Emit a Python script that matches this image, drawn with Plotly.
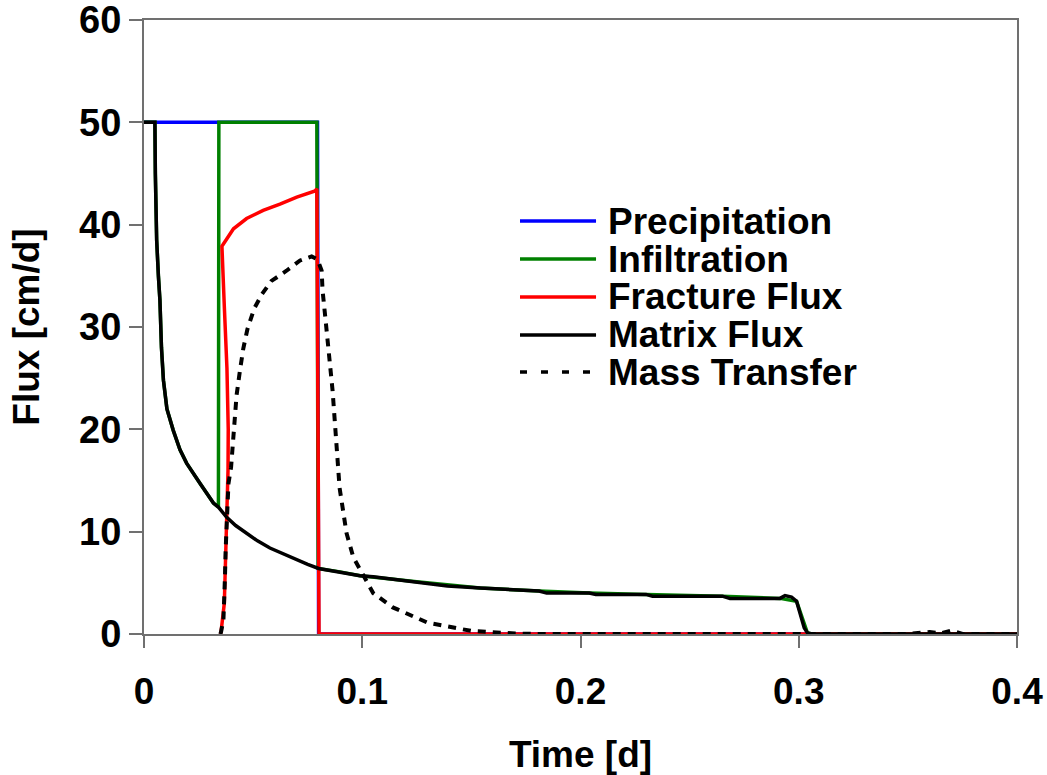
import plotly.graph_objects as go

# ---------------- data ----------------
series_names = ["Precipitation", "Infiltration", "Fracture Flux", "Matrix Flux", "Mass Transfer"]
series_colors = ["#0000FF", "#008000", "#FF0000", "#000000", "#000000"]

precip_t = [0.0, 0.0795, 0.0800, 0.4]
precip_v = [50, 50, 0, 0]

matrix_t = [0.0, 0.0050, 0.0052, 0.0054, 0.0058, 0.0066, 0.0073, 0.0080, 0.0089, 0.0105,
            0.0134, 0.0165, 0.0195, 0.0257, 0.0318, 0.0341, 0.0379, 0.0420, 0.0470, 0.0520,
            0.0577, 0.0640, 0.0700, 0.0750, 0.0800, 0.0898, 0.0990, 0.1050, 0.1130, 0.1250,
            0.1390, 0.1540, 0.1690, 0.1810, 0.1845, 0.2040, 0.2070, 0.2300, 0.2330, 0.2650,
            0.2685, 0.2914, 0.2937, 0.2967, 0.2990, 0.3006, 0.3025, 0.3040, 0.3060, 0.4]
matrix_v = [50, 50, 45, 40, 38.5, 35.0, 32.6, 28.0, 24.8, 22.0,
            19.9, 18.0, 16.7, 14.7, 12.8, 12.4, 11.4, 10.6, 9.85, 9.1,
            8.4, 7.8, 7.2, 6.8, 6.4, 6.07, 5.7, 5.6, 5.37, 5.1,
            4.7, 4.5, 4.3, 4.2, 4.0, 4.0, 3.87, 3.87, 3.7, 3.7,
            3.48, 3.48, 3.75, 3.6, 3.2, 2.0, 0.6, 0.1, 0.0, 0.0]

infil_t = [0.0, 0.0050, 0.0052, 0.0054, 0.0058, 0.0066, 0.0073, 0.0080, 0.0089, 0.0105,
           0.0134, 0.0165, 0.0195, 0.0257, 0.0318, 0.0341, 0.0343, 0.0792, 0.0798, 0.0898,
           0.0990, 0.1250, 0.1540, 0.1810, 0.2040, 0.2300, 0.2650, 0.2914, 0.2990, 0.3040,
           0.3060, 0.4]
infil_v = [50, 50, 45, 40, 38.5, 35.0, 32.6, 28.0, 24.8, 22.0,
           19.9, 18.0, 16.7, 14.7, 12.8, 12.4, 50, 50, 6.4, 6.07,
           5.7, 5.1, 4.5, 4.2, 4.0, 3.87, 3.7, 3.48, 3.2, 0.1,
           0.0, 0.0]

fract_t = [0.0350, 0.0353, 0.0368, 0.0379, 0.0385, 0.0386, 0.0380, 0.0368, 0.0357,
           0.0410, 0.0470, 0.0546, 0.0623, 0.0700, 0.0784, 0.0792, 0.0802, 0.4]
fract_v = [0, 0.2, 3.0, 10.0, 16.0, 20.0, 26.0, 32.0, 37.9,
           39.6, 40.6, 41.4, 42.0, 42.7, 43.3, 43.5, 0, 0]

mass_t = [0.0350, 0.0353, 0.0364, 0.0368, 0.0371, 0.0374, 0.0379, 0.0384, 0.0387,
          0.0399, 0.0409, 0.0424, 0.0440, 0.0455, 0.0474, 0.0505, 0.0540, 0.0584, 0.0653,
          0.0715, 0.0768, 0.0795, 0.0814, 0.0818, 0.0830, 0.0864, 0.0886, 0.0896, 0.0928,
          0.0959, 0.1050, 0.1140, 0.1300, 0.1500, 0.1700, 0.1800, 0.3500, 0.3600, 0.3650,
          0.3700, 0.3750, 0.4]
mass_v = [0, 0.2, 1.4, 3.0, 5.6, 8.2, 10.1, 12.8, 14.7,
          16.3, 19.6, 23.3, 25.8, 27.9, 29.8, 31.8, 33.2, 34.5, 35.5,
          36.5, 36.9, 36.6, 35.5, 33.6, 31.1, 23.8, 17.3, 14.3, 9.85,
          7.5, 4.0, 2.6, 1.1, 0.3, 0.05, 0, 0, 0.2, 0.05,
          0.35, 0, 0]

x_ticks = [0, 0.1, 0.2, 0.3, 0.4]
x_ticklabels = ["0", "0.1", "0.2", "0.3", "0.4"]
y_ticks = [0, 10, 20, 30, 40, 50, 60]

FONT = "Liberation Sans, Arial, Helvetica, sans-serif"

fig = go.Figure()
all_t = [precip_t, infil_t, fract_t, matrix_t, mass_t]
all_v = [precip_v, infil_v, fract_v, matrix_v, mass_v]
for i, name in enumerate(series_names):
    is_dash = name == "Mass Transfer"
    fig.add_trace(go.Scatter(
        x=all_t[i], y=all_v[i], mode="lines", name=name,
        line=dict(color=series_colors[i], width=4 if is_dash else 3.5,
                  dash="8px,7px" if is_dash else "solid"),
        showlegend=False, hoverinfo="x+y+name",
    ))

# manual legend (keys + labels), placed like the reference
leg_x0, leg_x1, leg_tx = 0.4307, 0.5178, 0.5292
leg_y = [0.6726, 0.6107, 0.5489, 0.4870, 0.4267]
for i, name in enumerate(series_names):
    is_dash = name == "Mass Transfer"
    fig.add_shape(type="line", xref="paper", yref="paper",
                  x0=leg_x0, x1=leg_x1, y0=leg_y[i], y1=leg_y[i],
                  line=dict(color=series_colors[i], width=3.5,
                            dash="7px,14px" if is_dash else "solid"))
    fig.add_annotation(xref="paper", yref="paper", x=leg_tx, y=leg_y[i],
                       xanchor="left", yanchor="middle", text=name, showarrow=False,
                       font=dict(family=FONT, size=37, color="black", weight="bold"))

axis_common = dict(
    showline=True, linecolor="#707070", linewidth=2, mirror=True,
    showgrid=False, zeroline=False, ticks="outside", tickcolor="#707070",
    tickwidth=1.5, ticklabeloverflow="allow",
)

fig.update_xaxes(range=[0, 0.4], tickvals=x_ticks, ticktext=x_ticklabels, ticklen=12,
                 ticklabelstandoff=12,
                 tickfont=dict(family=FONT, size=37, color="black", weight="bold"),
                 title=dict(text="Time [d]", standoff=34,
                            font=dict(family=FONT, size=37, color="black", weight="bold")),
                 **axis_common)
fig.update_yaxes(range=[0, 60], tickvals=y_ticks, ticklen=13,
                 tickfont=dict(family=FONT, size=38, color="black", weight="bold"),
                 title=dict(text="Flux [cm/d]", standoff=28,
                            font=dict(family=FONT, size=37, color="black", weight="bold")),
                 **axis_common)

fig.update_layout(
    width=1047, height=775,
    margin=dict(l=144, r=30, t=20, b=141, autoexpand=False),
    paper_bgcolor="white", plot_bgcolor="white",
    font=dict(family=FONT, color="black"),
)

fig.write_html("out.html", config={"displayModeBar": False},
               post_script="document.body.style.margin='0';document.body.style.padding='0';")
